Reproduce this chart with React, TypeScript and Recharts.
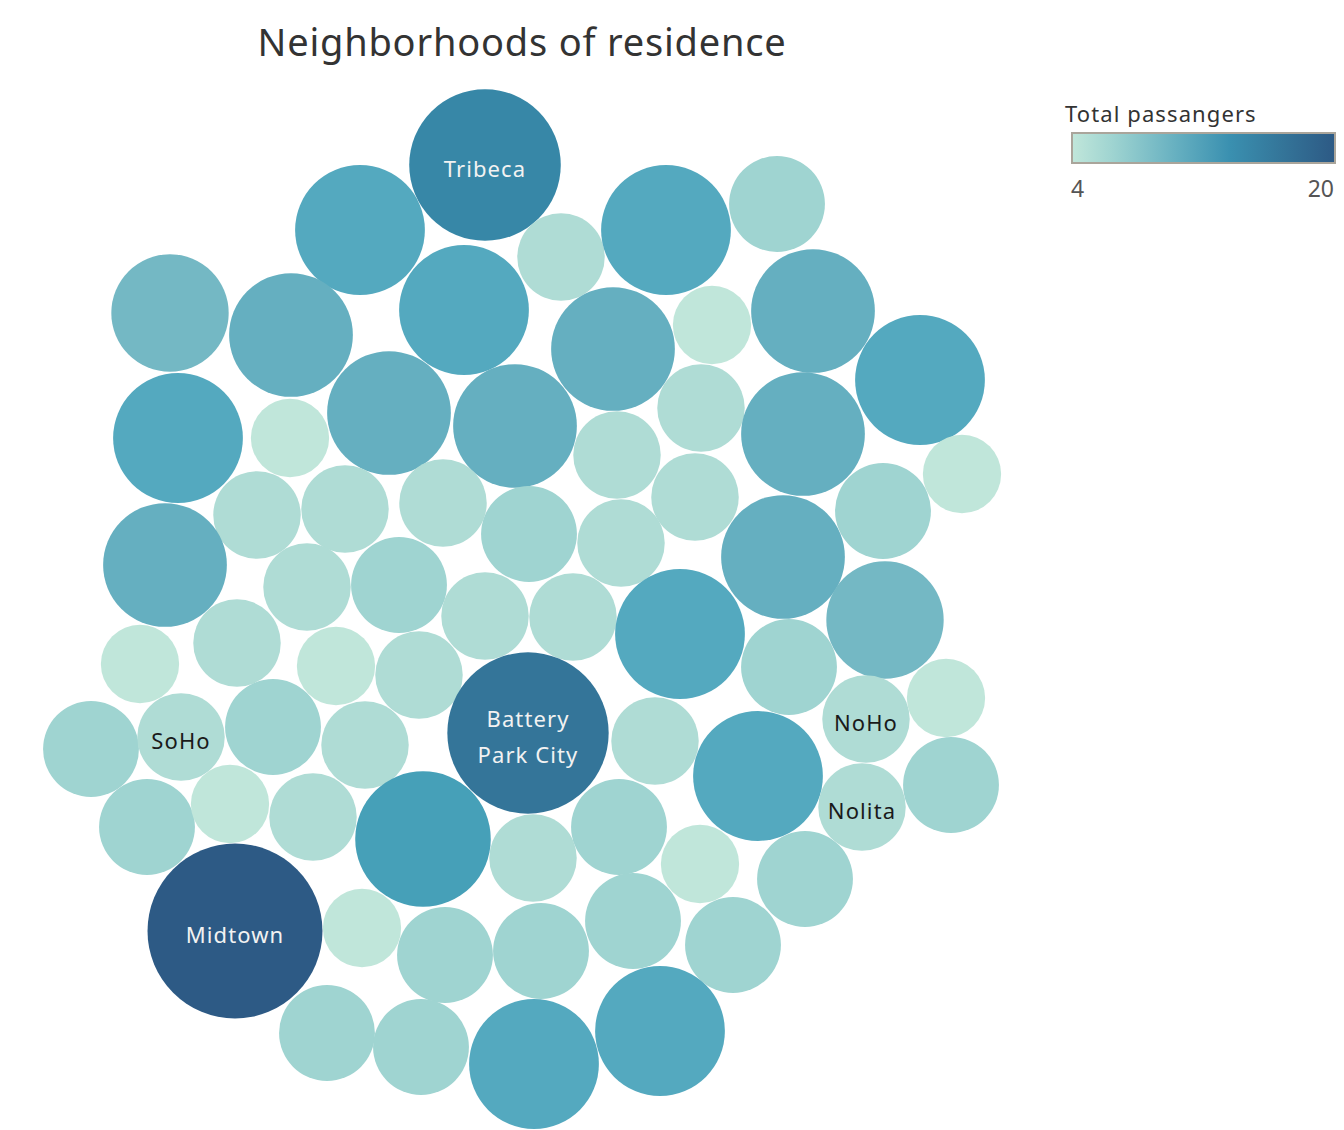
import { Scatter, ScatterChart, XAxis, YAxis, ZAxis } from "recharts";

// packed-bubble layout positions and passenger counts
const names = [
  'Tribeca', '', '', '', '', '', '', '', '', '', '', '',
  '', '', '', '', '', '', '', '', '', '', '', '',
  '', '', '', '', '', '', '', '', '', '', '', '',
  '', '', '', '', 'Battery\nPark City', 'NoHo', '', '', 'SoHo', '', '', '', '',
  'Nolita', '', '', '', '', '', '', '', '', '', 'Midtown', '', '', '', '', '', '', '', '', '',
]
const xs = [
  485, 360, 561, 666, 777, 170, 291, 464, 613, 712, 813, 920,
  178, 290, 389, 515, 617, 701, 803, 962, 257, 345, 443, 529,
  621, 695, 783, 883, 165, 307, 399, 485, 573, 680, 885, 140,
  237, 336, 419, 789, 528, 866, 946, 91, 181, 273, 365, 655, 758,
  862, 951, 147, 230, 313, 423, 533, 619, 700, 805, 235, 362, 445, 541, 633, 733, 327, 421, 534, 660,
]
const ys = [
  165, 230, 257, 230, 204, 313, 335, 310, 349, 325, 311, 380,
  438, 438, 413, 426, 455, 408, 434, 474, 515, 509, 503, 534,
  543, 497, 557, 511, 565, 587, 585, 616, 617, 634, 620, 664,
  643, 666, 675, 667, 733, 719, 698, 749, 737, 727, 745, 741, 776,
  807, 785, 827, 804, 817, 839, 858, 827, 864, 879, 931, 928, 955, 951, 921, 945, 1033, 1047, 1064, 1031,
]
const passengers = [
  15, 11, 5, 11, 6, 9, 10, 11, 10, 4, 10, 11,
  11, 4, 10, 10, 5, 5, 10, 4, 5, 5, 5, 6,
  5, 5, 10, 6, 10, 5, 6, 5, 5, 11, 9, 4,
  5, 4, 5, 6, 17, 5, 4, 6, 5, 6, 5, 5, 11,
  5, 6, 6, 4, 5, 12, 5, 6, 4, 6, 20, 4, 6, 6, 6, 6, 6, 6, 11, 11,
]

const colorStops: [number, string][] = [
  [4, '#c0e6da'], [5, '#afdcd5'], [6, '#9fd4d1'], [9, '#74b8c4'], [10, '#65afc0'],
  [11, '#54a9bf'], [12, '#46a0b8'], [15, '#3787a7'], [17, '#347599'], [20, '#2d5a85'],
]

function hex(c: string) {
  return [1, 3, 5].map(i => parseInt(c.slice(i, i + 2), 16))
}

function colorFor(v: number) {
  for (let i = 0; i < colorStops.length - 1; i++) {
    const [a, ca] = colorStops[i]
    const [b, cb] = colorStops[i + 1]
    if (v >= a && v <= b) {
      const t = (v - a) / (b - a)
      const A = hex(ca), B = hex(cb)
      const m = A.map((x, k) => Math.round(x + (B[k] - x) * t))
      return `rgb(${m[0]},${m[1]},${m[2]})`
    }
  }
  return v < 4 ? colorStops[0][1] : colorStops[colorStops.length - 1][1]
}

const data = xs.map((x, i) => ({ x, y: ys[i], value: passengers[i], name: names[i] }))

const FONT = '"Noto Sans", "Open Sans", sans-serif'

function Bubble(props: any) {
  const { cx, cy, size, payload } = props
  const r = Math.sqrt(size / Math.PI)
  const lines: string[] = payload.name ? payload.name.split('\n') : []
  const dark = payload.value >= 12
  return (
    <g>
      <circle cx={cx} cy={cy} r={r} fill={colorFor(payload.value)} />
      {lines.map((l, i) => (
        <text
          key={i}
          x={cx}
          y={cy + 3 + (i - (lines.length - 1) / 2) * 36}
          textAnchor='middle'
          dominantBaseline='central'
          fontFamily={FONT}
          fontSize={22}
          letterSpacing={1.1}
          fill={dark ? '#f2f2f2' : '#1a1a1a'}
        >
          {l}
        </text>
      ))}
    </g>
  )
}

export default function App() {
  return (
    <div style={{ position: 'absolute', left: 0, top: 0, width: 1344, height: 1130, background: '#fff', fontFamily: FONT }}>
      <div style={{ position: 'absolute', left: 0, width: 1044, top: 15, textAlign: 'center', fontSize: 38, letterSpacing: 0.8, color: '#333' }}>
        Neighborhoods of residence
      </div>
      <div style={{ position: 'absolute', left: 1065, top: 98, fontSize: 22, letterSpacing: 1.1, color: '#333' }}>Total passangers</div>
      <div style={{
        position: 'absolute', left: 1071, top: 132, width: 261, height: 28,
        border: '2px solid #aaa59b',
        background: 'linear-gradient(to right, #c0e6da 0%, #9fd4d1 15%, #65afc0 40%, #3a90b0 60%, #347599 80%, #2d5a85 100%)'
      }} />
      <div style={{ position: 'absolute', left: 1071, top: 172, fontSize: 23, color: '#555' }}>4</div>
      <div style={{ position: 'absolute', right: 10, top: 172, fontSize: 23, color: '#555' }}>20</div>
      <div style={{ position: 'absolute', left: 0, top: 0 }}>
        <ScatterChart width={1344} height={1130} margin={{ top: 0, right: 0, bottom: 0, left: 0 }}>
          <XAxis type='number' dataKey='x' domain={[0, 1344]} hide />
          <YAxis type='number' dataKey='y' domain={[0, 1130]} reversed hide />
          <ZAxis type='number' dataKey='value' domain={[0, 20]} range={[0, Math.PI * 87.5 * 87.5]} />
          <Scatter data={data} shape={Bubble} isAnimationActive={false} />
        </ScatterChart>
      </div>
    </div>
  )
}
